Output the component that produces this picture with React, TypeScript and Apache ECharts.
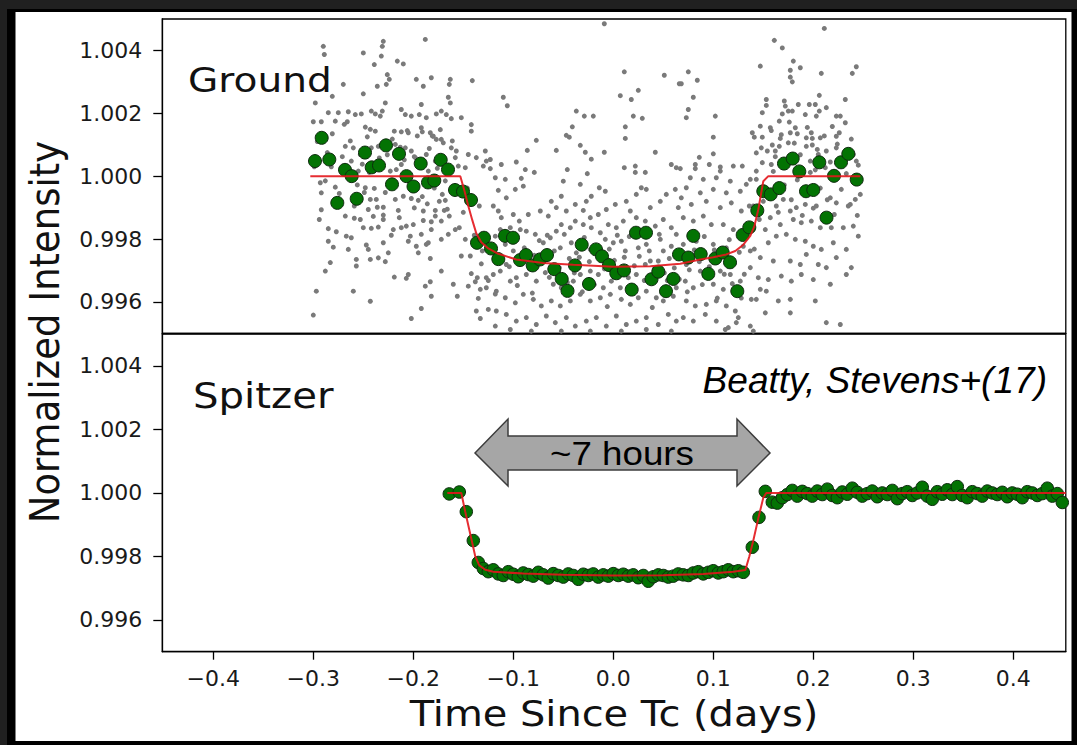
import React, { useEffect, useRef } from 'react';
import * as echarts from 'echarts';

// ---------- axes ----------
const xTicks = [-0.4, -0.3, -0.2, -0.1, 0.0, 0.1, 0.2, 0.3, 0.4];
const yTicks = [0.996, 0.998, 1.0, 1.002, 1.004];
const xRange = [-0.451, 0.4525];
const yRange = [0.995, 1.005];

// ---------- Ground: unbinned photometry (grey) ----------
const groundRaw: number[][] = [
  [-0.290,1.00413],[-0.289,1.00387],[-0.230,1.00429],[-0.231,1.00413],[-0.188,1.00435],[-0.250,1.00392],[-0.239,1.00355],[-0.232,1.00382],[-0.216,1.00366],[-0.210,1.00357],
  [-0.270,1.00292],[-0.281,1.00254],[-0.250,1.00262],[-0.236,1.00286],[-0.226,1.00323],[-0.224,1.00308],[-0.227,1.00292],[-0.197,1.00308],[-0.190,1.00286],[-0.182,1.00313],
  [-0.163,1.00308],[-0.164,1.00292],[-0.141,1.00304],[-0.165,1.00251],[-0.163,1.00233],[-0.192,1.00228],[-0.228,1.00233],[-0.298,1.00233],[-0.285,1.00202],[-0.275,1.00202],
  [-0.265,1.00205],[-0.258,1.00196],[-0.252,1.00198],[-0.242,1.00207],[-0.238,1.00198],[-0.231,1.00207],[-0.233,1.00191],[-0.212,1.00212],[-0.208,1.00196],[-0.202,1.00191],
  [-0.194,1.00196],[-0.187,1.00186],[-0.177,1.00198],[-0.172,1.00207],[-0.167,1.00196],[-0.162,1.00183],[-0.152,1.00186],[-0.142,1.00164],[-0.142,1.00143],[-0.292,1.00173],
  [-0.300,1.00173],[-0.278,1.00175],[-0.266,1.00173],[-0.248,1.00156],[-0.243,1.00149],[-0.238,1.00143],[-0.219,1.00143],[-0.212,1.00141],[-0.205,1.00138],[-0.192,1.00154],
  [-0.191,1.00141],[-0.183,1.00138],[-0.180,1.00127],[-0.177,1.00117],[-0.172,1.00117],[-0.170,1.00106],[-0.162,1.00090],[-0.157,1.00080],[-0.145,1.00069],[-0.137,1.00059],
  [-0.128,1.00080],[-0.268,1.00095],[-0.260,1.00090],[-0.253,1.00069],[-0.242,1.00090],[-0.235,1.00095],[-0.218,1.00101],[-0.208,1.00090],[-0.202,1.00080],[-0.198,1.00059],
  [-0.187,1.00069],[-0.178,1.00048],[-0.127,1.00048],[-0.130,1.00032],[-0.148,1.00027],[-0.155,1.00032],[-0.262,1.00048],[-0.255,1.00016],[-0.223,1.00016],[-0.212,1.00037],
  [-0.217,1.00021],[-0.185,1.00016],[-0.158,1.00059],
  [-0.009,1.00485],[0.011,1.00332],[0.051,1.00321],[0.066,1.00294],[-0.110,1.00251],[-0.106,1.00224],[0.007,1.00256],[0.018,1.00244],[0.025,1.00273],[-0.037,1.00207],
  [-0.029,1.00191],[-0.020,1.00191],[0.020,1.00191],[0.029,1.00184],[-0.041,1.00157],[0.012,1.00157],[-0.047,1.00130],[-0.044,1.00124],[-0.077,1.00114],[0.012,1.00120],
  [-0.033,1.00098],[-0.086,1.00082],[-0.057,1.00082],[-0.028,1.00076],[-0.009,1.00076],[0.042,1.00076],[-0.022,1.00054],[-0.123,1.00053],[-0.097,1.00045],[-0.112,1.00037],
  [0.011,1.00027],[0.022,1.00032],[-0.088,1.00021],[-0.046,1.00021],[0.058,1.00037],[0.063,1.00027],[-0.123,1.00024],[-0.079,1.00012],[-0.026,1.00008],[0.022,1.00012],[0.032,1.00012],
  [0.211,1.00470],[0.161,1.00432],[0.169,1.00408],[0.147,1.00350],[0.180,1.00366],[0.187,1.00345],[0.177,1.00337],[0.177,1.00315],[0.179,1.00300],[0.208,1.00327],
  [0.243,1.00348],[0.239,1.00327],[0.075,1.00332],[0.084,1.00305],[0.068,1.00294],[0.080,1.00251],[0.075,1.00212],[0.073,1.00186],[0.102,1.00191],[0.100,1.00124],
  [0.100,1.00071],[0.086,1.00060],[0.082,1.00037],[0.082,1.00024],[0.096,1.00037],[0.107,1.00029],[0.107,1.00016],[0.120,1.00032],[0.129,1.00032],[0.067,1.00024],
  [0.143,1.00074],[0.139,1.00138],[0.141,1.00124],[0.147,1.00159],[0.149,1.00202],[0.153,1.00244],[0.153,1.00225],[0.157,1.00154],[0.158,1.00145],[0.149,1.00124],
  [0.166,1.00175],[0.167,1.00120],[0.171,1.00239],[0.172,1.00223],[0.169,1.00198],[0.175,1.00207],[0.179,1.00207],[0.185,1.00228],[0.192,1.00196],[0.196,1.00228],
  [0.202,1.00228],[0.206,1.00257],[0.206,1.00207],[0.203,1.00191],[0.213,1.00218],[0.232,1.00244],[0.223,1.00191],[0.227,1.00191],[0.232,1.00170],[0.182,1.00154],
  [0.184,1.00135],[0.177,1.00138],[0.193,1.00122],[0.198,1.00138],[0.199,1.00120],[0.207,1.00122],[0.223,1.00127],[0.226,1.00138],[0.148,1.00090],[0.154,1.00080],
  [0.162,1.00080],[0.159,1.00099],[0.166,1.00095],[0.175,1.00106],[0.193,1.00095],[0.199,1.00099],[0.205,1.00069],[0.213,1.00080],[0.223,1.00090],[0.240,1.00069],
  [0.243,1.00048],[0.197,1.00048],[0.158,1.00037],[0.149,1.00043],[0.143,1.00016],[0.212,1.00027],
  [-0.293,0.99979],[-0.292,0.99947],[-0.278,0.99965],[-0.248,0.99963],[-0.239,0.99961],[-0.243,0.99926],[-0.237,0.99926],[-0.236,0.99901],[-0.245,0.99894],[-0.230,0.99901],
  [-0.230,0.99876],[-0.230,0.99862],[-0.218,0.99926],[-0.210,0.99936],[-0.202,0.99929],[-0.195,0.99923],[-0.215,0.99891],[-0.199,0.99899],[-0.190,0.99889],[-0.178,0.99891],
  [-0.178,0.99873],[-0.174,0.99920],[-0.168,0.99923],[-0.169,0.99891],[-0.164,0.99873],[-0.172,0.99857],[-0.182,0.99855],[-0.190,0.99859],[-0.200,0.99846],[-0.207,0.99841],
  [-0.212,0.99836],[-0.220,0.99830],[-0.222,0.99812],[-0.235,0.99838],[-0.242,0.99834],[-0.250,0.99836],[-0.253,0.99862],[-0.259,0.99866],[-0.268,0.99873],[-0.277,0.99823],
  [-0.267,0.99809],[-0.262,0.99804],[-0.285,0.99793],[-0.280,0.99774],[-0.265,0.99767],[-0.247,0.99781],[-0.245,0.99767],[-0.230,0.99788],[-0.225,0.99756],[-0.235,0.99740],
  [-0.228,0.99728],[-0.243,0.99735],[-0.257,0.99735],[-0.257,0.99714],[-0.283,0.99725],[-0.288,0.99698],[-0.205,0.99793],[-0.203,0.99809],[-0.197,0.99777],[-0.195,0.99756],
  [-0.187,0.99783],[-0.185,0.99788],[-0.183,0.99738],[-0.192,0.99815],[-0.182,0.99830],[-0.172,0.99799],[-0.165,0.99815],[-0.158,0.99830],[-0.154,0.99836],[-0.148,0.99799],
  [-0.152,0.99746],[-0.143,0.99746],[-0.172,0.99698],[-0.205,0.99687],[-0.207,0.99675],[-0.219,0.99679],[-0.183,0.99664],[-0.188,0.99650],[-0.182,0.99618],[-0.160,0.99656],
  [-0.156,0.99618],[-0.145,0.99650],[-0.142,0.99690],[-0.138,0.99664],[-0.136,0.99677],[-0.133,0.99640],[-0.127,0.99645],[-0.127,0.99677],[-0.132,0.99721],[-0.297,0.99634],
  [-0.260,0.99634],[-0.243,0.99602],[-0.192,0.99579],[-0.202,0.99547],[-0.300,0.99558],[-0.135,0.99611],[-0.137,0.99571],[-0.133,0.99547],[-0.125,0.99576],[-0.292,0.99893],[-0.285,0.99833],
  [-0.118,0.99995],[-0.108,0.99990],[-0.092,0.99993],[-0.050,0.99984],[-0.033,0.99974],[-0.014,0.99963],[-0.008,0.99952],[-0.022,0.99936],[-0.027,0.99920],[-0.090,0.99968],
  [-0.098,0.99958],[-0.115,0.99955],[-0.107,0.99931],[-0.120,0.99905],[-0.115,0.99889],[-0.112,0.99868],[-0.100,0.99878],[-0.094,0.99857],[-0.085,0.99878],[-0.073,0.99889],
  [-0.065,0.99873],[-0.057,0.99900],[-0.062,0.99920],[-0.052,0.99936],[-0.047,0.99889],[-0.038,0.99910],[-0.030,0.99891],[-0.023,0.99868],[-0.015,0.99878],[-0.007,0.99894],
  [0.002,0.99910],[0.013,0.99920],[0.023,0.99942],[0.028,0.99963],[0.033,0.99958],[0.037,0.99900],[0.047,0.99920],[0.053,0.99942],[0.062,0.99958],[0.065,0.99900],
  [0.050,0.99862],[0.042,0.99841],[0.032,0.99857],[0.023,0.99868],[0.017,0.99889],[0.010,0.99857],[0.003,0.99836],[-0.005,0.99846],[-0.013,0.99820],[-0.022,0.99836],
  [-0.030,0.99846],[-0.038,0.99857],[-0.043,0.99836],[-0.052,0.99846],[-0.057,0.99825],[-0.063,0.99804],[-0.070,0.99788],[-0.078,0.99815],[-0.087,0.99825],[-0.093,0.99830],
  [-0.103,0.99836],[-0.113,0.99830],[-0.118,0.99809],[-0.108,0.99783],[-0.100,0.99762],[-0.107,0.99719],[-0.113,0.99698],[-0.120,0.99687],[-0.103,0.99666],[-0.097,0.99677],
  [-0.087,0.99687],[-0.077,0.99666],[-0.068,0.99693],[-0.060,0.99656],[-0.052,0.99645],[-0.040,0.99666],[-0.033,0.99687],[-0.023,0.99698],[-0.015,0.99687],[-0.010,0.99645],
  [-0.002,0.99666],[0.007,0.99645],[0.015,0.99677],[0.023,0.99687],[0.032,0.99719],[0.037,0.99730],[0.045,0.99730],[0.050,0.99762],[0.058,0.99777],[0.063,0.99815],
  [0.058,0.99836],[0.047,0.99799],[0.033,0.99783],[0.025,0.99772],[0.012,0.99762],[0.008,0.99793],[0.000,0.99788],[-0.008,0.99799],[-0.023,0.99767],[-0.037,0.99756],
  [-0.042,0.99788],[-0.053,0.99772],[-0.068,0.99756],[-0.075,0.99725],[-0.033,0.99624],[-0.023,0.99603],[-0.013,0.99613],[-0.003,0.99624],[0.008,0.99608],[0.017,0.99592],
  [0.025,0.99613],[0.033,0.99634],[0.043,0.99613],[0.050,0.99603],[0.060,0.99618],[0.063,0.99645],[-0.117,0.99634],[-0.108,0.99613],[-0.098,0.99597],[-0.090,0.99624],
  [-0.080,0.99608],[-0.072,0.99587],[-0.062,0.99603],[-0.053,0.99587],[-0.043,0.99603],[-0.117,0.99571],[-0.107,0.99560],[-0.097,0.99539],[-0.087,0.99550],[-0.077,0.99528],
  [-0.067,0.99555],[-0.058,0.99534],[-0.047,0.99550],[-0.038,0.99523],[-0.027,0.99539],[-0.017,0.99550],[-0.007,0.99523],[0.003,0.99555],[0.013,0.99528],[0.023,0.99539],
  [0.033,0.99550],[0.045,0.99528],[0.055,0.99560],[0.063,0.99539],[-0.118,0.99523],[-0.103,0.99512],[-0.082,0.99507],[-0.052,0.99507],[-0.023,0.99507],[0.008,0.99507],[0.033,0.99512],[0.058,0.99507],
  [0.077,0.99995],[0.090,0.99990],[0.103,0.99995],[0.117,0.99984],[0.137,0.99990],[0.073,0.99963],[0.087,0.99947],[0.100,0.99958],[0.113,0.99947],[0.127,0.99952],
  [0.133,0.99974],[0.143,0.99990],[0.068,0.99931],[0.078,0.99910],[0.093,0.99920],[0.107,0.99900],[0.118,0.99915],[0.128,0.99889],[0.140,0.99905],[0.150,0.99920],
  [0.163,0.99905],[0.170,0.99926],[0.177,0.99889],[0.183,0.99900],[0.192,0.99910],[0.203,0.99905],[0.217,0.99931],[0.223,0.99915],[0.237,0.99910],[0.242,0.99926],
  [0.247,0.99942],[0.157,0.99868],[0.167,0.99846],[0.180,0.99862],[0.188,0.99852],[0.198,0.99857],[0.207,0.99836],[0.218,0.99836],[0.230,0.99836],[0.240,0.99841],
  [0.070,0.99868],[0.080,0.99857],[0.090,0.99873],[0.098,0.99846],[0.110,0.99846],[0.120,0.99830],[0.152,0.99830],[0.163,0.99809],[0.173,0.99815],[0.182,0.99799],
  [0.192,0.99793],[0.200,0.99777],[0.208,0.99767],[0.220,0.99788],[0.233,0.99767],[0.245,0.99809],[0.070,0.99783],[0.083,0.99793],[0.100,0.99783],[0.113,0.99772],
  [0.130,0.99777],[0.137,0.99762],[0.147,0.99741],[0.160,0.99730],[0.177,0.99730],[0.187,0.99719],[0.193,0.99751],[0.205,0.99719],[0.213,0.99709],[0.223,0.99741],
  [0.238,0.99709],[0.073,0.99719],[0.087,0.99698],[0.107,0.99698],[0.117,0.99687],[0.137,0.99709],[0.145,0.99677],[0.155,0.99671],[0.168,0.99682],[0.178,0.99666],
  [0.188,0.99687],[0.200,0.99671],[0.217,0.99656],[0.233,0.99687],[0.072,0.99666],[0.080,0.99645],[0.100,0.99656],[0.110,0.99640],[0.127,0.99666],[0.147,0.99640],
  [0.153,0.99634],[0.073,0.99603],[0.082,0.99587],[0.093,0.99592],[0.103,0.99603],[0.113,0.99587],[0.122,0.99571],[0.138,0.99608],[0.143,0.99608],[0.165,0.99603],
  [0.177,0.99608],[0.202,0.99603],[0.213,0.99534],[0.227,0.99528],[0.070,0.99550],[0.080,0.99539],[0.092,0.99560],[0.103,0.99539],[0.115,0.99518],[0.125,0.99550],
  [0.123,0.99534],[0.137,0.99523],[0.152,0.99565],[0.177,0.99565],[0.112,0.99512],[0.140,0.99507],
  [-0.296,1.0011],[-0.288,0.99985],[-0.281,1.00135],[-0.274,0.99945],[-0.271,1.00062],[-0.263,1.00112],[-0.259,0.99905],[-0.251,1.00038],[-0.246,1.00125],[-0.240,0.99872],
  [-0.234,1.00058],[-0.228,0.99948],[-0.221,1.00118],[-0.214,0.99868],[-0.209,1.00052],[-0.203,0.99978],[-0.196,1.00128],[-0.191,0.99935],[-0.184,1.00088],[-0.179,0.99962],
  [-0.173,1.00148],[-0.168,0.99985],[-0.161,1.00112],[-0.294,0.99862],[-0.286,1.00075],[-0.279,0.99918],[-0.269,1.00165],[-0.256,0.99972],[-0.244,1.00012],[-0.226,1.00068],
  [-0.218,0.99975],[-0.206,1.00145],[-0.194,1.00035],[-0.186,0.99912],[-0.176,1.00025],[-0.166,0.99895],[-0.299,1.0003],[-0.282,1.0003],[-0.262,0.99988],[-0.249,0.99948],
  [-0.233,1.00098],[-0.213,1.00092],[-0.199,1.00062],[-0.181,1.00128],[-0.171,0.99942],
  [-0.128,0.99812],[-0.121,0.99758],[-0.116,0.99733],[-0.111,0.99805],[-0.104,0.99712],[-0.099,0.99802],[-0.094,0.99745],[-0.089,0.99772],[-0.084,0.99705],[-0.079,0.99748],
  [-0.074,0.99795],[-0.069,0.99732],[-0.064,0.99678],[-0.059,0.99762],[-0.054,0.99709],[-0.049,0.99815],[-0.044,0.99738],[-0.039,0.99692],[-0.034,0.99742],[-0.029,0.99805],
  [-0.024,0.99728],[-0.019,0.99655],[-0.014,0.99738],[-0.009,0.99705],[-0.004,0.99768],[0.001,0.99732],[0.006,0.99688],[0.011,0.99742],[0.016,0.99808],[0.021,0.99715],
  [0.026,0.99745],[0.031,0.99668],[0.036,0.99762],[0.041,0.99705],[0.046,0.99815],[0.051,0.99692],[0.056,0.99738],[0.061,0.99708],[0.066,0.99672],[0.071,0.99745],
  [0.076,0.99702],[0.081,0.99765],[0.086,0.99728],[0.091,0.99808],[0.096,0.99712],[0.101,0.99765],[0.106,0.99738],[0.111,0.99688],[0.116,0.99798],[0.121,0.99722],
  [0.126,0.99758],[0.131,0.99688],[-0.125,0.99668],[-0.118,0.99625],[-0.112,0.99742],[-0.096,0.99652],[-0.081,0.99628],[-0.066,0.99812],[-0.046,0.99662],[-0.031,0.99632],
  [-0.006,0.99585],[0.004,0.99812],[0.019,0.99632],[0.039,0.99582],[0.054,0.99668],[0.074,0.99632],[0.089,0.99655],[0.104,0.99612],[0.119,0.99658],[0.128,0.99612],
  [0.157,0.99955],[0.162,1.00062],[0.165,0.99885],[0.168,1.00132],[0.171,0.99972],[0.174,1.00048],[0.178,0.99925],[0.181,1.00105],[0.184,0.99988],[0.187,1.00068],
  [0.190,0.99945],[0.194,1.00155],[0.197,1.00012],[0.200,0.99898],[0.204,1.00085],[0.207,0.99962],[0.211,1.00128],[0.214,0.99925],[0.217,1.00045],[0.221,0.99878],
  [0.224,1.00102],[0.228,0.99958],[0.231,1.00062],[0.235,0.99905],[0.238,1.00118],[0.241,0.99985],[0.245,1.00035],[0.160,1.00015],[0.176,1.00172],[0.189,0.99875],
  [0.202,1.0002],[0.219,1.00158],[0.233,1.00008],[0.244,0.99875],
  [-0.150,0.99885],[-0.146,0.99962],[-0.139,0.99812],[-0.134,0.99905],[-0.131,0.99762],[0.133,0.99832],[0.136,0.99905],[0.141,0.99768],[0.146,0.99862],[0.151,0.99962],[0.155,0.99788]
];

// ---------- Ground: binned points (green) ----------
const groundBinned: number[][] = [
  [-0.2983,1.00048],[-0.2916,1.00122],[-0.2840,1.00053],[-0.2760,0.99915],[-0.2683,1.00020],[-0.2616,1.00000],[-0.2566,0.99928],[-0.2483,1.00075],
  [-0.2416,1.00028],[-0.2343,1.00034],[-0.2273,1.00098],[-0.2213,0.99974],[-0.2143,1.00071],[-0.2068,1.00000],[-0.1998,0.99967],[-0.1926,1.00040],
  [-0.1853,0.99980],[-0.1790,0.99986],[-0.1726,1.00052],[-0.1653,1.00021],[-0.1583,0.99956],[-0.1503,0.99951],[-0.1423,0.99924],[-0.1363,0.99788],
  [-0.1293,0.99804],[-0.1223,0.99770],[-0.1150,0.99736],[-0.1083,0.99810],[-0.1003,0.99804],[-0.0933,0.99733],[-0.0873,0.99749],[-0.0806,0.99716],
  [-0.0733,0.99735],[-0.0663,0.99749],[-0.0590,0.99704],[-0.0516,0.99673],[-0.0458,0.99635],[-0.0383,0.99716],[-0.0316,0.99782],[-0.0243,0.99657],
  [-0.0173,0.99767],[-0.0113,0.99745],[-0.0043,0.99717],[0.0030,0.99691],[0.0107,0.99700],[0.0184,0.99639],[0.0227,0.99820],[0.0327,0.99820],
  [0.0382,0.99672],[0.0450,0.99696],[0.0527,0.99634],[0.0600,0.99673],[0.0657,0.99751],[0.0750,0.99741],[0.0800,0.99810],[0.0874,0.99752],
  [0.0950,0.99689],[0.1020,0.99738],[0.1094,0.99757],[0.1167,0.99726],[0.1240,0.99634],[0.1294,0.99813],[0.1360,0.99837],[0.1440,0.99891],
  [0.1500,0.99952],[0.1574,0.99942],[0.1660,0.99962],[0.1707,1.00040],[0.1794,1.00056],[0.1860,1.00015],[0.1927,0.99952],[0.2000,0.99956],
  [0.2060,1.00044],[0.2132,0.99868],[0.2207,1.00001],[0.2277,1.00044],[0.2350,1.00071],[0.2434,0.99989]
];

// ---------- Ground: transit model (red) ----------
const groundModel: number[][] = [
  [-0.303,1.0],[-0.153,1.0],[-0.149,0.99955],[-0.145,0.99905],[-0.141,0.99860],[-0.137,0.99818],[-0.132,0.99790],[-0.125,0.99770],
  [-0.115,0.99753],[-0.097,0.99735],[-0.070,0.99724],[-0.040,0.99718],[0.0,0.99712],[0.037,0.99713],[0.067,0.99721],[0.087,0.99735],
  [0.100,0.99742],[0.113,0.99751],[0.122,0.99762],[0.130,0.99782],[0.137,0.99810],[0.141,0.99840],[0.145,0.99894],[0.150,0.99984],[0.155,1.0],[0.247,1.0]
];

// ---------- Spitzer: binned points (green) ----------
const spitzerBinned: number[][] = [
  [-0.164,0.99997],[-0.154,1.00003],[-0.147,0.99941],[-0.140,0.99850],[-0.135,0.99781],
  [-0.130,0.99762],[-0.125,0.99752],[-0.120,0.99758],[-0.115,0.99745],[-0.110,0.99740],[-0.105,0.99752],[-0.100,0.99744],[-0.095,0.99736],[-0.090,0.99748],[-0.085,0.99743],
  [-0.080,0.99738],[-0.075,0.99750],[-0.070,0.99742],[-0.065,0.99732],[-0.060,0.99746],[-0.055,0.99740],[-0.050,0.99735],[-0.045,0.99745],[-0.040,0.99740],[-0.035,0.99728],
  [-0.030,0.99744],[-0.025,0.99740],[-0.020,0.99745],[-0.015,0.99735],[-0.010,0.99742],[-0.005,0.99738],[0.000,0.99746],[0.005,0.99740],[0.010,0.99744],[0.015,0.99738],
  [0.020,0.99742],[0.025,0.99733],[0.030,0.99740],[0.035,0.99722],[0.040,0.99736],[0.045,0.99742],[0.050,0.99740],[0.055,0.99735],[0.060,0.99738],[0.065,0.99745],
  [0.070,0.99742],[0.075,0.99740],[0.080,0.99748],[0.085,0.99752],[0.090,0.99745],[0.095,0.99750],[0.100,0.99755],[0.105,0.99748],[0.110,0.99752],[0.115,0.99758],
  [0.120,0.99752],[0.125,0.99755],[0.130,0.99750],
  [0.139,0.99829],[0.1457,0.99923],[0.152,1.00005],[0.159,0.99971],
  [0.164,0.99968],[0.169,0.99985],[0.174,0.99995],[0.179,1.00008],[0.184,0.99990],[0.189,1.00005],[0.194,0.99998],[0.199,0.99990],[0.204,1.00006],[0.209,0.99995],
  [0.214,1.00012],[0.219,0.99992],[0.224,0.99985],[0.229,1.00003],[0.234,0.99996],[0.239,1.00015],[0.244,1.00002],[0.249,0.99990],[0.254,0.99998],[0.259,1.00006],
  [0.264,0.99988],[0.269,1.00000],[0.274,0.99995],[0.279,1.00008],[0.284,0.99982],[0.289,0.99998],[0.294,1.00004],[0.299,0.99992],[0.304,1.00000],[0.309,1.00018],
  [0.314,0.99990],[0.319,0.99980],[0.324,1.00004],[0.329,0.99996],[0.334,1.00010],[0.339,0.99995],[0.344,1.00020],[0.349,0.99992],[0.354,0.99985],[0.359,1.00004],
  [0.364,0.99998],[0.369,0.99990],[0.374,1.00006],[0.379,1.00000],[0.384,0.99995],[0.389,1.00002],[0.394,0.99988],[0.399,1.00000],[0.404,0.99996],[0.409,0.99985],
  [0.414,1.00004],[0.419,1.00000],[0.424,0.99992],[0.429,0.99998],[0.434,1.00015],[0.439,0.99990],[0.444,0.99998],[0.449,0.99970]
];

// ---------- Spitzer: transit model (red) ----------
const spitzerModel: number[][] = [
  [-0.166,1.0],[-0.152,1.0],[-0.148,0.99940],[-0.143,0.99870],[-0.138,0.99800],[-0.134,0.99772],[-0.128,0.99758],[-0.120,0.99752],
  [-0.090,0.99746],[-0.050,0.99742],[0.0,0.99740],[0.050,0.99741],[0.090,0.99745],[0.120,0.99752],[0.132,0.99757],[0.136,0.99800],
  [0.140,0.99850],[0.145,0.99920],[0.150,0.99985],[0.153,1.0],[0.4525,1.0]
];

const FONT = 'DejaVu Sans';
const fmtX = (v: number) => (v < -1e-9 ? '\u2212' : '') + Math.abs(v).toFixed(1);
const fmtY = (v: number) => v.toFixed(3);

function xAxisOf(gridIndex: number, showLabels: boolean) {
  return {
    type: 'value', gridIndex, min: xRange[0], max: xRange[1],
    axisLine: { show: true, onZero: false, lineStyle: { color: '#000', width: 1.3 } },
    axisTick: { show: showLabels, length: 8, inside: false, customValues: xTicks, lineStyle: { color: '#000', width: 1.3 } },
    axisLabel: { show: showLabels, customValues: xTicks, formatter: fmtX, margin: 16, fontSize: 22, fontFamily: FONT, color: '#1a1a1a' },
    splitLine: { show: false },
  };
}
function yAxisOf(gridIndex: number) {
  return {
    type: 'value', gridIndex, min: yRange[0], max: yRange[1],
    axisLine: { show: true, onZero: false, lineStyle: { color: '#000', width: 1.3 } },
    axisTick: { show: true, length: 9, inside: false, customValues: yTicks, lineStyle: { color: '#000', width: 1.3 } },
    axisLabel: { show: true, customValues: yTicks, formatter: fmtY, margin: 20, fontSize: 22, fontFamily: FONT, color: '#1a1a1a' },
    splitLine: { show: false },
  };
}

const greenStyle = { color: '#037303', borderColor: '#0f2a0f', borderWidth: 1, opacity: 1 };
const redLine = { color: '#e3161c', width: 2, opacity: 0.9 };

export default function App() {
  const ref = useRef<HTMLDivElement>(null);
  useEffect(() => {
    if (!ref.current) return;
    const chart = echarts.init(ref.current, null, { renderer: 'svg' });
    chart.setOption({
      animation: false,
      backgroundColor: '#202020',
      grid: [
        { left: 162.3, top: 19, width: 903.5, height: 314.3, show: true, borderColor: '#000', borderWidth: 1.3, containLabel: false },
        { left: 162.3, top: 334.2, width: 903.5, height: 317.5, show: true, borderColor: '#000', borderWidth: 1.3, containLabel: false },
      ],
      xAxis: [xAxisOf(0, false), xAxisOf(1, true)],
      yAxis: [yAxisOf(0), yAxisOf(1)],
      series: [
        { name: 'Ground (unbinned)', type: 'scatter', xAxisIndex: 0, yAxisIndex: 0, data: groundRaw, symbolSize: 5, itemStyle: { color: '#7a7a7a', opacity: 1 }, z: 2, silent: true },
        { name: 'Ground (binned)', type: 'scatter', xAxisIndex: 0, yAxisIndex: 0, data: groundBinned, symbolSize: 13, itemStyle: greenStyle, z: 3, silent: true },
        { name: 'Ground model', type: 'line', xAxisIndex: 0, yAxisIndex: 0, data: groundModel, showSymbol: false, lineStyle: redLine, z: 4, silent: true },
        { name: 'Spitzer (binned)', type: 'scatter', xAxisIndex: 1, yAxisIndex: 1, data: spitzerBinned, symbolSize: 12.5, itemStyle: greenStyle, z: 3, silent: true },
        { name: 'Spitzer model', type: 'line', xAxisIndex: 1, yAxisIndex: 1, data: spitzerModel, showSymbol: false, lineStyle: redLine, z: 4, silent: true },
      ],
      graphic: [
        { type: 'rect', z: -30, silent: true, shape: { x: 7, y: 9, width: 1070, height: 736 }, style: { fill: '#000' } },
        { type: 'rect', z: -29, silent: true, shape: { x: 15.5, y: 12, width: 1056, height: 729 }, style: { fill: '#fff' } },
        { type: 'text', z: 10, x: 45, y: 332, rotation: Math.PI / 2, scaleY: 1.12,
          style: { text: 'Normalized Intensity', fontSize: 37, fontFamily: FONT, fill: '#111', textAlign: 'center', textVerticalAlign: 'middle' } },
        { type: 'text', z: 10, x: 614, y: 714, scaleX: 1.14,
          style: { text: 'Time Since Tc (days)', fontSize: 35, fontFamily: FONT, fill: '#111', textAlign: 'center', textVerticalAlign: 'middle' } },
        { type: 'text', z: 10, x: 188, y: 80, scaleX: 1.15,
          style: { text: 'Ground', fontSize: 34, fontFamily: FONT, fill: '#111', textAlign: 'left', textVerticalAlign: 'middle' } },
        { type: 'text', z: 10, x: 193, y: 396, scaleX: 1.15,
          style: { text: 'Spitzer', fontSize: 35, fontFamily: FONT, fill: '#111', textAlign: 'left', textVerticalAlign: 'middle' } },
        { type: 'text', z: 10, x: 1047, y: 380.5, scaleX: 1.03,
          style: { text: 'Beatty, Stevens+(17)', fontSize: 36, fontStyle: 'italic', fontFamily: 'Liberation Sans', fill: '#000', textAlign: 'right', textVerticalAlign: 'middle' } },
        { type: 'polygon', z: 9, silent: true,
          shape: { points: [[475, 453], [508, 419], [508, 436], [737, 436], [737, 419], [770, 453], [737, 486], [737, 470], [508, 470], [508, 486]] },
          style: { fill: '#a6a6a6', stroke: '#3c3c3c', lineWidth: 1.5 } },
        { type: 'text', z: 10, x: 622, y: 453, scaleX: 1.08,
          style: { text: '~7 hours', fontSize: 34, fontFamily: 'Liberation Sans', fill: '#000', textAlign: 'center', textVerticalAlign: 'middle' } },
      ],
    });
    return () => chart.dispose();
  }, []);
  return <div ref={ref} style={{ position: 'fixed', left: 0, top: 0, width: 1077, height: 745 }} />;
}
